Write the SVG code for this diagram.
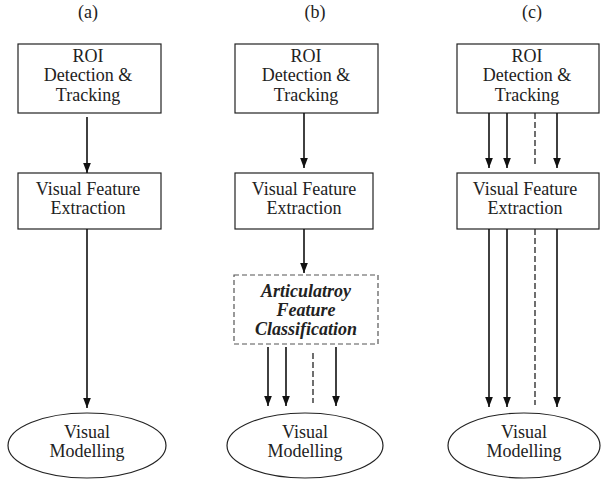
<svg xmlns="http://www.w3.org/2000/svg" width="601" height="479" viewBox="0 0 601 479">
<style>
text{font-family:'Liberation Serif','Times New Roman',Times,'DejaVu Serif',serif;font-size:18px;fill:#222;text-anchor:middle}
.box{fill:#fff;stroke:#222;stroke-width:1.2}
.dbox{fill:#fff;stroke:#555;stroke-width:1.2;stroke-dasharray:5,3}
.bi{font-weight:bold;font-style:italic}
.arr{stroke:#111;stroke-width:1.6;fill:none;marker-end:url(#ah)}
.dash{stroke:#222;stroke-width:1.3;fill:none;stroke-dasharray:6,3}
</style>
<defs>
<marker id="ah" markerUnits="userSpaceOnUse" markerWidth="10" markerHeight="14" viewBox="0 0 13 10" refX="13" refY="5" orient="auto">
<path d="M0,0 L13,5 L0,10 Z" fill="#111"/>
</marker>
</defs>
<g id="labels">
<text x="88" y="18">(a)</text>
<text x="315" y="18">(b)</text>
<text x="532" y="18">(c)</text>
</g>
<g id="a-roi"><rect class="box" x="18" y="44" width="143" height="69"/>
<text x="88" y="61.5">ROI</text><text x="88" y="81">Detection &amp;</text><text x="88" y="100.5">Tracking</text></g>
<g id="a-vfe"><rect class="box" x="18" y="173" width="143" height="56"/>
<text x="88" y="195">Visual Feature</text><text x="88" y="214">Extraction</text></g>
<g id="a-vm"><ellipse class="box" cx="87" cy="445.5" rx="79" ry="32.5"/>
<text x="87" y="438">Visual</text><text x="87" y="457">Modelling</text></g>

<g id="b-roi"><rect class="box" x="235" y="44" width="143" height="69"/>
<text x="306" y="61.5">ROI</text><text x="306" y="81">Detection &amp;</text><text x="306" y="100.5">Tracking</text></g>
<g id="b-vfe"><rect class="box" x="235" y="173" width="138" height="56"/>
<text x="304" y="195">Visual Feature</text><text x="304" y="214">Extraction</text></g>
<g id="b-afc"><rect class="dbox" x="234" y="275" width="144" height="69"/>
<text class="bi" x="306" y="297">Articulatroy</text><text class="bi" x="306" y="316">Feature</text><text class="bi" x="306" y="335">Classification</text></g>
<g id="b-vm"><ellipse class="box" cx="305" cy="445.5" rx="78" ry="32.5"/>
<text x="305" y="438">Visual</text><text x="305" y="457">Modelling</text></g>

<g id="c-roi"><rect class="box" x="457" y="44" width="142" height="69"/>
<text x="527" y="61.5">ROI</text><text x="527" y="81">Detection &amp;</text><text x="527" y="100.5">Tracking</text></g>
<g id="c-vfe"><rect class="box" x="457" y="173" width="142" height="56"/>
<text x="525" y="195">Visual Feature</text><text x="525" y="214">Extraction</text></g>
<g id="c-vm"><ellipse class="box" cx="524" cy="445.5" rx="76" ry="32.5"/>
<text x="524" y="438">Visual</text><text x="524" y="457">Modelling</text></g>

<g id="connectors">
<line class="arr" x1="87" y1="117" x2="87" y2="173"/>
<line class="arr" x1="87" y1="229" x2="87" y2="408"/>
<line class="arr" x1="304" y1="113" x2="304" y2="168"/>
<line class="arr" x1="304" y1="229" x2="304" y2="273"/>
<line class="arr" x1="268" y1="347" x2="268" y2="406"/>
<line class="arr" x1="286" y1="347" x2="286" y2="406"/>
<line class="dash" x1="313" y1="353" x2="313" y2="403"/>
<line class="arr" x1="336" y1="347" x2="336" y2="406"/>
<line class="arr" x1="489" y1="113" x2="489" y2="168"/>
<line class="arr" x1="507" y1="113" x2="507" y2="168"/>
<line class="dash" x1="535" y1="113" x2="535" y2="165"/>
<line class="arr" x1="557" y1="113" x2="557" y2="168"/>
<line class="arr" x1="489" y1="229" x2="489" y2="407"/>
<line class="arr" x1="507" y1="229" x2="507" y2="407"/>
<line class="dash" x1="535" y1="229" x2="535" y2="405"/>
<line class="arr" x1="557" y1="229" x2="557" y2="407"/>
</g>
</svg>
